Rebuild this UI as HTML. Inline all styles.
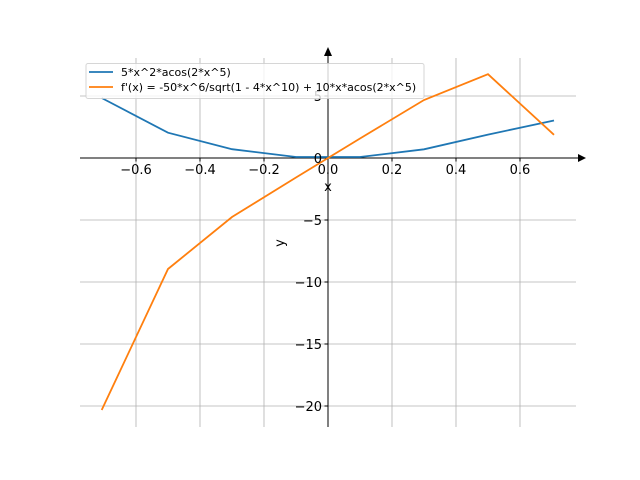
<!DOCTYPE html>
<html><head><meta charset="utf-8"><style>body{margin:0;background:#fff}svg{display:block}</style></head><body>
<svg width="640" height="480" xmlns="http://www.w3.org/2000/svg" font-family="DejaVu Sans, Liberation Sans, sans-serif">
<g stroke="#b0b0b0" stroke-width="0.8">
<line x1="136" y1="58" x2="136" y2="427"/><line x1="200" y1="58" x2="200" y2="427"/><line x1="264" y1="58" x2="264" y2="427"/><line x1="328" y1="58" x2="328" y2="427"/><line x1="392" y1="58" x2="392" y2="427"/><line x1="456" y1="58" x2="456" y2="427"/><line x1="520" y1="58" x2="520" y2="427"/>
<line x1="80" y1="96" x2="576" y2="96"/><line x1="80" y1="158" x2="576" y2="158"/><line x1="80" y1="220" x2="576" y2="220"/><line x1="80" y1="282" x2="576" y2="282"/><line x1="80" y1="344" x2="576" y2="344"/><line x1="80" y1="406" x2="576" y2="406"/>
</g>
<g stroke="#000" stroke-width="1">
<line x1="80" y1="158" x2="580" y2="158"/><line x1="328" y1="427" x2="328" y2="54"/>
<line x1="136" y1="158" x2="136" y2="161.5"/><line x1="200" y1="158" x2="200" y2="161.5"/><line x1="264" y1="158" x2="264" y2="161.5"/><line x1="392" y1="158" x2="392" y2="161.5"/><line x1="456" y1="158" x2="456" y2="161.5"/><line x1="520" y1="158" x2="520" y2="161.5"/>
<line x1="324.5" y1="96" x2="328" y2="96"/><line x1="324.5" y1="220" x2="328" y2="220"/><line x1="324.5" y1="282" x2="328" y2="282"/><line x1="324.5" y1="344" x2="328" y2="344"/><line x1="324.5" y1="406" x2="328" y2="406"/>
</g>
<polygon points="586,158 578,154 578,162" fill="#000"/>
<polygon points="328,47 324,56 332,56" fill="#000"/>
<polyline fill="none" stroke="#1f77b4" stroke-width="1.8" points="101.7,98 168,132.7 232,149.2 296,157 360,157 424,149.3 488,134.6 554,120.5"/>
<polyline fill="none" stroke="#ff7f0e" stroke-width="1.8" points="101.7,410 168,269 232,217 296,177.5 360,138.5 424,100 488,74.2 554,134.8"/>
<g font-size="13" text-anchor="middle" fill="#000">
<text x="136" y="174">−0.6</text><text x="200" y="174">−0.4</text><text x="264" y="174">−0.2</text><text x="328" y="174">0.0</text><text x="392" y="174">0.2</text><text x="456" y="174">0.4</text><text x="520" y="174">0.6</text>
</g>
<g font-size="13" text-anchor="end" fill="#000">
<text x="322" y="101">5</text><text x="322" y="163">0</text><text x="322" y="225">−5</text><text x="322" y="287">−10</text><text x="322" y="349">−15</text><text x="322" y="411">−20</text>
</g>
<text x="328" y="191" font-size="13" text-anchor="middle">x</text>
<text x="0" y="0" font-size="13" text-anchor="middle" transform="translate(284,243) rotate(-90)">y</text>
<rect x="86" y="63.5" width="338" height="35" rx="2" fill="#fff" fill-opacity="0.8" stroke="#ccc" stroke-opacity="0.8"/>
<line x1="89" y1="72" x2="113" y2="72" stroke="#1f77b4" stroke-width="1.8"/>
<line x1="89" y1="87" x2="113" y2="87" stroke="#ff7f0e" stroke-width="1.8"/>
<g font-size="11" fill="#000"><text x="121" y="76">5*x^2*acos(2*x^5)</text><text x="121" y="91">f'(x) = -50*x^6/sqrt(1 - 4*x^10) + 10*x*acos(2*x^5)</text></g>
</svg>
</body></html>
